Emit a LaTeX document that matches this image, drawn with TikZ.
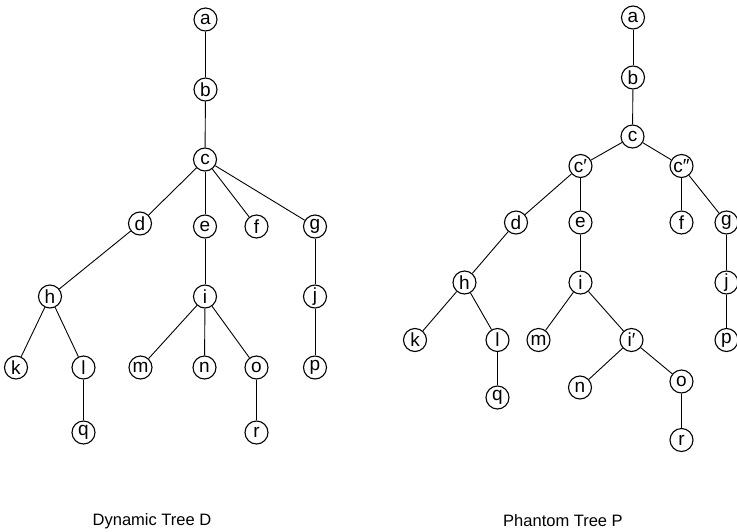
\documentclass[tikz,border=0pt]{standalone}
\usepackage{fontspec}
\setmainfont{Liberation Sans}
\usetikzlibrary{positioning}
\tikzset{
  vertex/.style={
    circle, draw=black, fill=white, line width=1.1pt,
    minimum size=23pt, inner sep=0pt,
    font=\fontsize{19}{19}\selectfont
  },
  edge/.style={line width=0.9pt, draw=black},
  caption/.style={font=\fontsize{16.5}{18}\selectfont}
}

\begin{document}
\begin{tikzpicture}[x=1pt, y=-1pt]
  \useasboundingbox (0,0) rectangle (737,531);

  % Dynamic tree D
  \node[vertex] (da) at (205.5,19.5) {a};
  \node[vertex] (db) at (205.5,89.5) {b};
  \node[vertex] (dc) at (205,159.5) {c};
  \node[vertex] (dd) at (140,223.5) {d};
  \node[vertex] (de) at (205,226.5) {e};
  \node[vertex] (df) at (256.5,226.5) {f};
  \node[vertex] (dg) at (315,226.5) {g};
  \node[vertex] (dh) at (50,296.5) {h};
  \node[vertex] (di) at (205,296.5) {i};
  \node[vertex] (dj) at (315,296.5) {j};
  \node[vertex] (dk) at (16,367.5) {k};
  \node[vertex] (dl) at (83.5,367.5) {l};
  \node[vertex] (dm) at (140.5,367.5) {m};
  \node[vertex] (dn) at (204.5,367.5) {n};
  \node[vertex] (do) at (256.5,367.5) {o};
  \node[vertex] (dp) at (315,367.5) {p};
  \node[vertex] (dq) at (83.5,432.5) {q};
  \node[vertex] (dr) at (256.5,432.5) {r};
  \node[caption] (dcap) at (152,521) {Dynamic Tree D};

  \draw[edge] (da) -- (db);
  \draw[edge] (db) -- (dc);
  \draw[edge] (dc) -- (dd);
  \draw[edge] (dc) -- (de);
  \draw[edge] (dc) -- (df);
  \draw[edge] (dc) -- (dg);
  \draw[edge] (dd) -- (dh);
  \draw[edge] (de) -- (di);
  \draw[edge] (dg) -- (dj);
  \draw[edge] (dh) -- (dk);
  \draw[edge] (dh) -- (dl);
  \draw[edge] (dl) -- (dq);
  \draw[edge] (di) -- (dm);
  \draw[edge] (di) -- (dn);
  \draw[edge] (di) -- (do);
  \draw[edge] (do) -- (dr);
  \draw[edge] (dj) -- (dp);

  % Phantom tree P
  \node[vertex] (pa) at (633,17.5) {a};
  \node[vertex] (pb) at (633,77.5) {b};
  \node[vertex] (pc) at (632.5,136.5) {c};
  \node[vertex] (pc1) at (580.5,166) {c′};
  \node[vertex] (pc2) at (681.5,166) {c″};
  \node[vertex] (pd) at (516,222.5) {d};
  \node[vertex] (pe) at (580.5,222.5) {e};
  \node[vertex] (pf) at (681.5,222.5) {f};
  \node[vertex] (pg) at (726.5,222.5) {g};
  \node[vertex] (ph) at (464.5,282.5) {h};
  \node[vertex] (pi) at (580.5,282.5) {i};
  \node[vertex] (pj) at (726.5,282.5) {j};
  \node[vertex] (pk) at (415,340) {k};
  \node[vertex] (pl) at (497.5,340) {l};
  \node[vertex] (pm) at (538.5,340) {m};
  \node[vertex] (pi1) at (631.5,340) {i′};
  \node[vertex] (pp) at (726.5,340) {p};
  \node[vertex] (pn) at (580,387.5) {n};
  \node[vertex] (po) at (681.5,381.5) {o};
  \node[vertex] (pq) at (497.5,397.5) {q};
  \node[vertex] (pr) at (681.5,440) {r};
  \node[caption] (pcap) at (563,521) {Phantom Tree P};

  \draw[edge] (pa) -- (pb);
  \draw[edge] (pb) -- (pc);
  \draw[edge] (pc) -- (pc1);
  \draw[edge] (pc) -- (pc2);
  \draw[edge] (pc1) -- (pd);
  \draw[edge] (pc1) -- (pe);
  \draw[edge] (pc2) -- (pf);
  \draw[edge] (pc2) -- (pg);
  \draw[edge] (pd) -- (ph);
  \draw[edge] (pe) -- (pi);
  \draw[edge] (pg) -- (pj);
  \draw[edge] (ph) -- (pk);
  \draw[edge] (ph) -- (pl);
  \draw[edge] (pl) -- (pq);
  \draw[edge] (pi) -- (pm);
  \draw[edge] (pi) -- (pi1);
  \draw[edge] (pj) -- (pp);
  \draw[edge] (pi1) -- (pn);
  \draw[edge] (pi1) -- (po);
  \draw[edge] (po) -- (pr);
\end{tikzpicture}
\end{document}
